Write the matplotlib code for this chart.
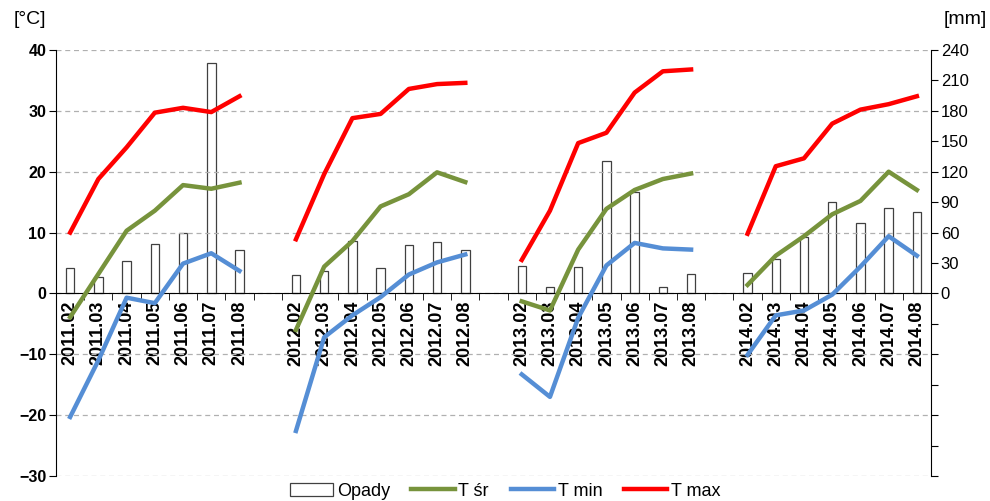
import matplotlib
matplotlib.use('Agg')
import matplotlib.pyplot as plt
import numpy as np

plt.rcParams['font.family'] = ['Liberation Sans', 'DejaVu Sans']

years = ['2011', '2012', '2013', '2014']
months = ['02', '03', '04', '05', '06', '07', '08']

opady = [
    [25, 16, 32, 49, 60, 227, 43],
    [18, 22, 52, 25, 48, 51, 43],
    [27, 6, 26, 131, 100, 6, 19],
    [20, 34, 56, 90, 69, 84, 80],
]
t_sr = [
    [-3.9, 3.2, 10.3, 13.6, 17.8, 17.2, 18.2],
    [-6.0, 4.4, 8.6, 14.3, 16.3, 19.9, 18.3],
    [-1.3, -2.8, 7.2, 13.9, 17.0, 18.8, 19.7],
    [1.4, 6.2, 9.4, 13.0, 15.2, 20.0, 17.0],
]
t_min = [
    [-20.3, -11.0, -0.7, -1.6, 4.9, 6.6, 3.7],
    [-22.6, -7.2, -3.6, -0.6, 3.1, 5.1, 6.4],
    [-13.3, -17.0, -4.0, 4.6, 8.3, 7.4, 7.2],
    [-10.1, -3.6, -2.8, -0.2, 4.4, 9.4, 6.2],
]
t_max = [
    [10.0, 18.8, 24.0, 29.7, 30.5, 29.8, 32.4],
    [8.9, 19.6, 28.8, 29.5, 33.6, 34.4, 34.6],
    [5.5, 13.6, 24.7, 26.4, 33.0, 36.5, 36.8],
    [9.8, 20.9, 22.2, 27.9, 30.2, 31.1, 32.4],
]

fig = plt.figure(figsize=(9.9, 5.01), dpi=100)
ax = fig.add_axes([0.0566, 0.0499, 0.8838, 0.8503])
ax2 = ax.twinx()

n_slots = len(years) * (len(months) + 1) - 1
labels = []
positions = []
for g, y in enumerate(years):
    for m_i, m in enumerate(months):
        positions.append(g * (len(months) + 1) + m_i)
        labels.append(y + '.' + m)

# bars on the right axis
for g in range(len(years)):
    xs = [g * (len(months) + 1) + i for i in range(len(months))]
    ax2.bar(xs, opady[g], width=0.3, color='white', edgecolor='#404040', linewidth=0.9,
            label='Opady' if g == 0 else None, zorder=2)

for g in range(len(years)):
    xs = [g * (len(months) + 1) + i for i in range(len(months))]
    ax.plot(xs, t_sr[g], color='#77933C', linewidth=3.2, label='T śr' if g == 0 else None, zorder=3)
    ax.plot(xs, t_min[g], color='#558ED5', linewidth=3.2, label='T min' if g == 0 else None, zorder=3)
    ax.plot(xs, t_max[g], color='#FF0000', linewidth=3.2, label='T max' if g == 0 else None, zorder=3)

ax.set_zorder(ax2.get_zorder() + 1)
ax.patch.set_visible(False)

ax.set_xlim(-0.5, n_slots - 0.5)
ax.set_ylim(-30, 40)
ax2.set_ylim(-180, 240)

ax.set_yticks(range(-30, 41, 10))
ax.yaxis.grid(True, linestyle=(0, (4, 3)), color='#b0b0b0', linewidth=0.9)
ax.set_axisbelow(True)
ax.tick_params(axis='y', direction='out', length=5, labelsize=11.5, pad=2)
for t in ax.get_yticklabels():
    t.set_fontweight('bold')

ax2.set_yticks(range(-180, 241, 30))
ax2.set_yticklabels(['' if v < 0 else str(v) for v in range(-180, 241, 30)])
ax2.tick_params(axis='y', direction='out', length=5, labelsize=12, pad=2)
ax2.set_xlim(-0.5, n_slots - 0.5)

ax.spines['top'].set_visible(False)
ax2.spines['top'].set_visible(False)
ax2.spines['bottom'].set_visible(False)
ax.spines['bottom'].set_position(('data', 0))
ax2.spines['left'].set_visible(False)
ax.spines['right'].set_visible(False)

ax.set_xticks(positions)
ax.set_xticklabels(labels, rotation=90, fontsize=13, fontweight='bold')
ax.set_xticks(np.arange(0.5, n_slots - 0.5, 1), minor=True)
ax.tick_params(axis='x', which='major', length=0, pad=5)
ax.tick_params(axis='x', which='minor', direction='out', length=5)
for t in ax.get_xticklabels():
    t.set_va('top')

fig.text(30 / 990, 1 - 20 / 501, '[°C]', fontsize=14, ha='center', va='center')
fig.text(965 / 990, 1 - 20 / 501, '[mm]', fontsize=14, ha='center', va='center')

h1, l1 = ax2.get_legend_handles_labels()
h2, l2 = ax.get_legend_handles_labels()
fig.legend(h1 + h2, l1 + l2, loc='center', bbox_to_anchor=(505 / 990, 1 - 491 / 501), ncol=4,
           frameon=False, fontsize=13, handlelength=2.4, handletextpad=0.2, columnspacing=1.2,
           borderaxespad=0)

fig.savefig('out.png', dpi=100)
